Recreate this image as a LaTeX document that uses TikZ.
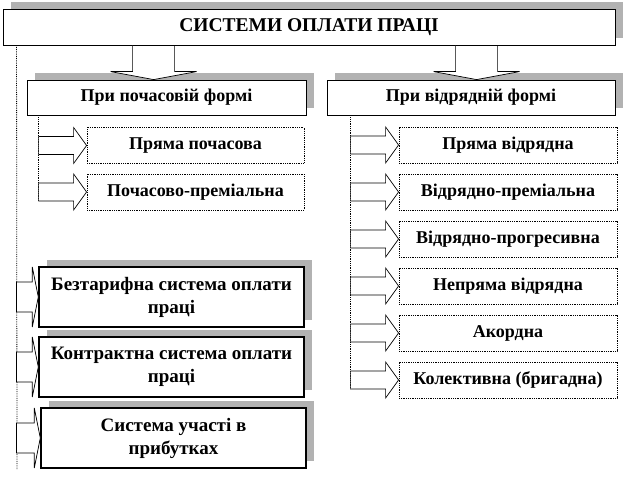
\documentclass[tikz,border=0pt]{standalone}
\usepackage{fontspec}
\setmainfont{Liberation Serif}
\usetikzlibrary{calc,shadows}

\begin{document}
\begin{tikzpicture}[x=1pt, y=1pt,
  font=\bfseries\fontsize{18}{22}\selectfont,
  boxshadow/.style={drop shadow={shadow xshift=8pt, shadow yshift=7pt, fill=gray!60, opacity=1}},
  headbox/.style={draw, line width=0.9pt, fill=white, boxshadow, inner sep=0pt, font=\bfseries\fontsize{19.5}{22}\selectfont},
  formbox/.style={draw, line width=0.8pt, fill=white, boxshadow, inner sep=0pt, minimum height=35pt},
  itembox/.style={draw, densely dotted, line width=0.8pt, fill=white, inner sep=0pt, minimum width=218pt, minimum height=36pt},
  bigbox/.style={draw, line width=1.4pt, fill=white, boxshadow, inner sep=0pt, minimum width=265pt, minimum height=60pt, align=center, font=\bfseries\fontsize{19}{23}\selectfont},
  link/.style={densely dotted, line width=0.8pt},
  blk/.style={draw, line width=0.7pt, fill=white, line join=miter}]
\useasboundingbox (0,0) rectangle (625,481);
%%%%% Boxes %%%%%
\node[headbox, minimum width=612pt, minimum height=36pt] (sys) at (309,454) {СИСТЕМИ ОПЛАТИ ПРАЦІ};
\node[formbox, minimum width=279pt] (time) at (166.5,383.5) {При почасовій формі};
\node[formbox, minimum width=288pt] (piece) at (471,383.5) {При відрядній формі};
\node[itembox, minimum width=217pt] (t1) at (195.5,335.5) {Пряма почасова};
\node[itembox, minimum width=217pt] (t2) at (195.5,289) {Почасово-преміальна};
\foreach \txt [count=\i] in {Пряма відрядна, Відрядно-преміальна, Відрядно-прогресивна,
  Непряма відрядна, Акордна, Колективна (бригадна)}{
\node[itembox] (p\i) at (508,383-47*\i) {\txt};
}
\node[bigbox] (b1) at (171.5,184) {Безтарифна система оплати\\праці};
\node[bigbox] (b2) at (171.5,114) {Контрактна система оплати\\праці};
\node[bigbox] (b3) at (173.5,43) {Система участі в\\прибутках};
%%%%% Lines %%%%%
\coordinate (outer) at ($(sys.south west)+(14,0)$);
\coordinate (outerend) at (17,11);
\coordinate (tline) at ($(time.south west)+(12,0)$);
\coordinate (pline) at ($(piece.south west)+(24,0)$);
\draw[link] (outer) -- (outerend);
\draw[link] (tline) -- ($(tline |- t2.west)+(0,-9)$);
\draw[link] (pline) -- ($(pline |- p6.west)+(0,-9)$);
%%%%% Down arrows %%%%%
\coordinate (tipL) at ($(time.north west)+(127,0)$);
\coordinate (tipR) at ($(piece.north west)+(150,0)$);
\foreach \t in {tipL,tipR}{
\draw[blk] let \p1=(\t), \p2=(sys.south) in (\x1-21,\y2) -- (\x1-21,\y1+8) -- (\x1-43,\y1+8)
  -- (\p1) -- (\x1+43,\y1+8) -- (\x1+21,\y1+8) -- (\x1+21,\y2) -- cycle;
}
%%%%% Side arrows %%%%%
\foreach \b/\l in {t1/tline,t2/tline,p1/pline,p2/pline,p3/pline,p4/pline,p5/pline,p6/pline}{
\draw[blk] let \p1=(\b.west), \p2=(\l) in (\x2,\y1+9) -- (\x1-13,\y1+9) -- (\x1-13,\y1+18)
  -- (\p1) -- (\x1-13,\y1-18) -- (\x1-13,\y1-9) -- (\x2,\y1-9) -- cycle;
}
\foreach \b in {b1,b2,b3}{
\draw[blk] let \p1=(\b.west), \p2=(outer) in (\x2,\y1+15) -- (\x1-6,\y1+15) -- (\x1-6,\y1+30)
  -- (\p1) -- (\x1-6,\y1-30) -- (\x1-6,\y1-15) -- (\x2,\y1-15) -- cycle;
}
\end{tikzpicture}
\end{document}
